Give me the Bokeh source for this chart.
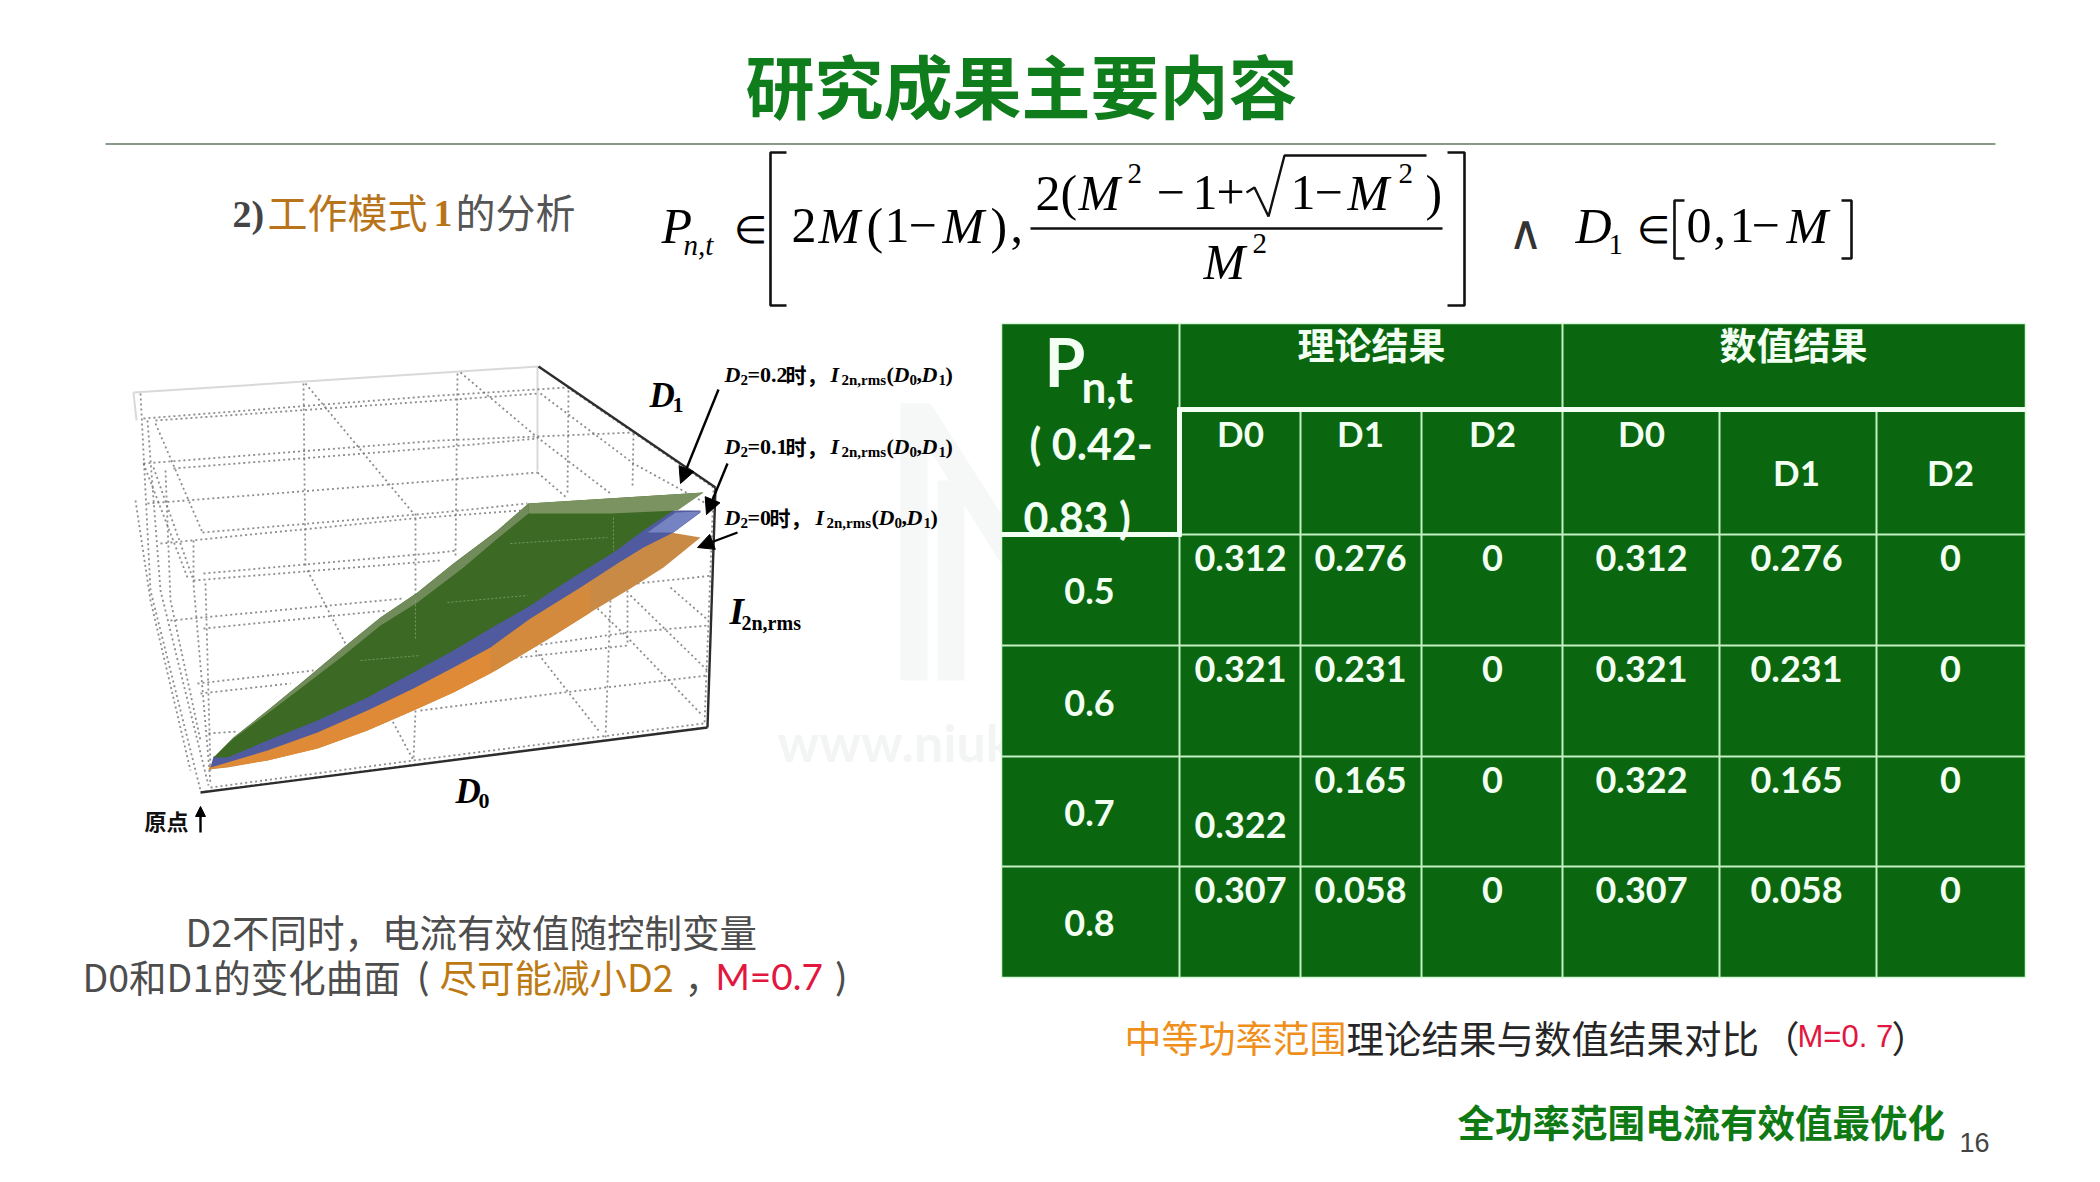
from bokeh.plotting import figure
from bokeh.models import ColumnDataSource, Range1d, Arrow, NormalHead
from bokeh.embed import file_html
from bokeh.resources import INLINE

# ---------- table values ----------
power_levels = ["0.5", "0.6", "0.7", "0.8"]
theory_d0 = ["0.312", "0.321", "0.322", "0.307"]
theory_d1 = ["0.276", "0.231", "0.165", "0.058"]
theory_d2 = ["0", "0", "0", "0"]
numeric_d0 = ["0.312", "0.321", "0.322", "0.307"]
numeric_d1 = ["0.276", "0.231", "0.165", "0.058"]
numeric_d2 = ["0", "0", "0", "0"]
group_titles = ["理论结果", "数值结果"]
col_titles = ["D0", "D1", "D2", "D0", "D1", "D2"]

# ---------- surfaces ----------
orange_x = [700, 663, 630, 593, 547, 497, 453, 413, 367, 317, 267, 227, 208,
            210, 227, 267, 317, 367, 413, 453, 490, 530, 580, 617, 643, 670]
orange_y = [537, 567, 588, 610, 639, 669, 692, 710, 730, 748, 760, 767, 769,
            765, 760, 748, 730, 708, 686, 665, 645, 616, 585, 561, 545, 532]
blue_x = [700, 673, 643, 617, 580, 530, 490, 453, 413, 367, 317, 267, 227, 210,
          213, 227, 267, 317, 367, 413, 453, 490, 530, 563, 613, 643, 670, 700]
blue_y = [512, 532, 547, 563, 587, 618, 647, 667, 688, 710, 732, 750, 762, 767,
          756, 755, 738, 718, 695, 670, 648, 626, 603, 581, 550, 528, 510, 510]
green_x = [213, 233, 267, 300, 343, 380, 417, 453, 497, 528, 703, 670, 643, 613, 563, 530, 490,
           453, 413, 367, 317, 267, 227]
green_y = [757, 737, 710, 683, 647, 617, 592, 563, 530, 503, 492, 512, 530, 552, 583, 605, 628,
           650, 672, 697, 720, 740, 757]
green_top_x = [528, 703, 677, 610, 528]
green_top_y = [503, 492, 510, 513, 513]
green_edge_x = [528, 497, 453, 417, 380, 343, 300, 267, 233, 213,
                233, 267, 300, 343, 380, 417, 463, 497, 528]
green_edge_y = [503, 530, 563, 592, 617, 647, 683, 710, 737, 757,
                738, 713, 688, 655, 625, 602, 567, 538, 513]
blue_light_x = [647, 675, 700, 673]
blue_light_y = [532, 512, 511, 532]
orange_hot_x = [208, 267, 317, 367, 413, 453, 490, 490, 453, 413, 367, 317, 267, 210]
orange_hot_y = [769, 760, 748, 730, 710, 692, 673, 645, 665, 686, 708, 730, 748, 765]
orange_mid_x = [490, 547, 590, 590, 530, 490]
orange_mid_y = [673, 639, 612, 579, 616, 645]

# dotted box grid
grid_lines = [
    [(143, 418), (440, 395), (567, 387)], [(155, 420), (440, 400), (538, 393)],
    [(143, 463), (440, 440), (633, 432)], [(173, 468), (440, 447), (537, 438)],
    [(147, 503), (440, 480), (537, 472)],
    [(202, 532), (440, 512), (527, 503)], [(160, 543), (413, 518), (520, 510)],
    [(203, 573), (440, 552), (456, 550)], [(193, 580), (440, 560)],
    [(170, 620), (403, 598)], [(203, 628), (387, 610)],
    [(197, 683), (313, 670)], [(200, 693), (290, 683)], [(208, 733), (237, 731)],
    [(535, 645), (627, 632), (708, 625)], [(510, 658), (627, 645)],
    [(420, 710), (563, 692), (707, 675)], [(637, 583), (713, 575)],
    [(210, 787), (413, 760), (703, 723)], [(205, 791), (415, 764), (705, 727)],
    [(303, 383), (305, 567)], [(415, 513), (415, 603)], [(415, 710), (413, 760)],
    [(457, 373), (455, 557)], [(568, 390), (567, 493)], [(633, 433), (632, 488)],
    [(627, 590), (627, 645)], [(610, 600), (605, 737)],
    [(140, 393), (150, 590), (200, 790)], [(147, 420), (160, 590), (208, 785)],
    [(193, 540), (193, 583), (210, 783)], [(205, 583), (210, 770)],
    [(135, 500), (150, 600), (190, 770)], [(165, 470), (170, 600), (200, 740)],
    [(305, 383), (413, 513)], [(155, 423), (202, 532)], [(153, 467), (192, 577)],
    [(143, 463), (187, 577)], [(307, 570), (347, 647)],
    [(460, 372), (537, 437), (610, 493)], [(537, 472), (567, 498)],
    [(540, 393), (633, 463), (713, 507)], [(567, 387), (633, 432), (713, 487)],
    [(630, 595), (707, 670)], [(670, 587), (708, 620)],
    [(597, 608), (627, 637), (700, 713)], [(535, 650), (598, 730)], [(390, 717), (413, 760)],
    [(713, 490), (704, 724)],
]
faint_lines = [[(510, 543), (607, 537)], [(447, 602), (527, 595)], [(613, 517), (613, 550)], [(415, 600), (415, 640)],
               [(360, 660), (420, 655)]]
box_dark = [[(538, 366), (715, 487)], [(715, 487), (707, 727)], [(707, 727), (200, 792)]]
box_light = [[(133, 392), (538, 366)], [(133, 392), (136, 420)], [(537, 366), (537, 470)]]

# label arrows: x0, y0, x1, y1
arrows = [(718, 389, 680, 483), (727, 463, 706, 514), (737, 532, 697, 547)]

# table grid
col_edges = [1179, 1300, 1421, 1562, 1719, 1876]
row_edges = [534, 645, 756, 866]
col_centers = [1240, 1360, 1492, 1641, 1796, 1950]
row_value_y = [557, 668, 779, 889]
row_label_y = [590, 702, 812, 922]
col_title_y = [432, 432, 432, 432, 471, 471]

GREEN = "#0a660f"
SERIF = "Liberation Serif"
CJK = "Noto Sans CJK SC"
LATO = "Lato"

T = dict(x=[], y=[], text=[], size=[], color=[], font=[], style=[], align=[], base=[])


def put(x, y, text, size, color="#000000", font=SERIF, style="normal", align="left", base="alphabetic"):
    # a given baseline is turned into a vertical middle
    if base == "alphabetic":
        y = y - 0.34 * size
        base = "middle"
    for k, v in zip(T, (x, y, text, f"{size}px", color, font, style, align, base)):
        T[k].append(v)


# headline
put(1021, 83, "研究成果主要内容", 69, "#0f7d1c", CJK, "bold", "center", "middle")
put(232, 226, "2)", 38, "#444444", SERIF, "bold")
put(267, 210, "工作模式", 40, "#b8741a", CJK, "normal", "left", "middle")
put(433, 226, "1", 38, "#b8741a", SERIF, "bold")
put(455, 210, "的分析", 40, "#555555", CJK, "normal", "left", "middle")

# formula
EQ = 50
for x, y, s, size, st in [
    (661, 242, "P", EQ, "italic"), (683, 254, "n,t", 29, "italic"), (733, 242, "∈", 38, "normal"),
    (791, 242, "2", EQ, "normal"), (818, 242, "M", EQ, "italic"), (866, 242, "(", EQ, "normal"),
    (884, 242, "1", EQ, "normal"), (908, 242, "−", EQ, "normal"), (942, 242, "M", EQ, "italic"),
    (990, 242, ")", EQ, "normal"), (1010, 242, ",", EQ, "normal"),
    (1035, 209, "2(", EQ, "normal"), (1078, 209, "M", EQ, "italic"), (1127, 183, "2", 29, "normal"),
    (1156, 209, "−", EQ, "normal"), (1192, 209, "1", EQ, "normal"), (1216, 209, "+", EQ, "normal"),
    (1290, 209, "1", EQ, "normal"), (1314, 209, "−", EQ, "normal"), (1347, 209, "M", EQ, "italic"),
    (1398, 183, "2", 29, "normal"), (1425, 209, ")", EQ, "normal"),
    (1203, 278, "M", EQ, "italic"), (1252, 253, "2", 29, "normal"),
    (1575, 242, "D", EQ, "italic"), (1608, 254, "1", 29, "normal"), (1636, 242, "∈", 38, "normal"),
    (1686, 242, "0", EQ, "normal"), (1713, 242, ",", EQ, "normal"), (1729, 242, "1", EQ, "normal"),
    (1751, 242, "−", EQ, "normal"), (1786, 242, "M", EQ, "italic"),
]:
    put(x, y, s, size, "#000000", SERIF, st)
put(1525, 248, "∧", 48, "#333333", SERIF, "normal", "center")

# surface labels
for y, x_i, cond in [(381, 830, "=0.2"), (453, 830, "=0.1"), (524, 815, "=0")]:
    put(724, y, "D", 22, style="bold italic")
    put(740, y + 4, "2", 15, style="bold")
    put(747, y, cond, 22, style="bold")
    put(747 + (38 if cond != "=0" else 22), y - 8, "时，", 21, font=CJK, style="bold", base="middle")
    put(x_i, y, "I", 22, style="bold italic")
    put(x_i + 11, y + 4, "2n,rms", 15, style="bold")
    put(x_i + 56, y, "(", 22, style="bold")
    put(x_i + 63, y, "D", 22, style="bold italic")
    put(x_i + 79, y + 4, "0", 15, style="bold")
    put(x_i + 86, y, ",", 22, style="bold")
    put(x_i + 91, y, "D", 22, style="bold italic")
    put(x_i + 108, y + 4, "1", 15, style="bold")
    put(x_i + 115, y, ")", 22, style="bold")

put(649, 407, "D", 35, style="bold italic")
put(672, 412, "1", 22, style="bold")
put(455, 803, "D", 35, style="bold italic")
put(478, 808, "0", 22, style="bold")
put(729, 624, "I", 37, style="bold italic")
put(741, 629, "2n,rms", 20, style="bold")
put(144, 819, "原点", 22, "#111111", CJK, "bold", "left", "middle")

# left caption
GRAY = "#4d4d4d"
put(185, 930, "D2不同时，电流有效值随控制变量", 37.5, GRAY, CJK, "normal", "left", "middle")
put(82, 975, "D0和D1的变化曲面", 37.5, GRAY, CJK, "normal", "left", "middle")
put(418, 975, "(", 39, GRAY, LATO, "normal", "left", "middle")
put(439, 975, "尽可能减小D2", 37.5, "#bd7a12", CJK, "normal", "left", "middle")
put(684, 975, "，", 37.5, GRAY, CJK, "normal", "left", "middle")
put(715, 975, "M=0.7", 37, "#e2173f", LATO, "normal", "left", "middle")
put(835, 975, ")", 39, GRAY, LATO, "normal", "left", "middle")

# right caption and footer
put(1124, 1036, "中等功率范围", 37, "#ef8f1c", CJK, "normal", "left", "middle")
put(1346, 1036, "理论结果与数值结果对比", 37.5, "#262626", CJK, "normal", "left", "middle")
put(1762, 1036, "（", 37, "#262626", CJK, "normal", "left", "middle")
put(1797, 1036, "M=0. 7", 31, "#e2173f", "Liberation Sans", "normal", "left", "middle")
put(1891, 1036, "）", 37, "#262626", CJK, "normal", "left", "middle")
put(1457, 1120, "全功率范围电流有效值最优化", 37.5, "#0f7a14", CJK, "bold", "left", "middle")
put(1959, 1142, "16", 27, "#444444", "Liberation Sans", "normal", "left", "middle")

# table text
W = "#f2fff2"
put(1044, 383, "P", 66, W, LATO, "bold")
put(1081, 400, "n,t", 44, W, LATO, "bold")
put(1029, 458, "( 0.42-", 43, W, LATO, "bold")
put(1023, 532, "0.83 )", 43, W, LATO, "bold")
put(1371, 343, group_titles[0], 37, W, CJK, "bold", "center", "middle")
put(1793, 343, group_titles[1], 37, W, CJK, "bold", "center", "middle")
for cx, cy, s in zip(col_centers, col_title_y, col_titles):
    put(cx, cy, s, 35, W, LATO, "bold", "center", "middle")
for i, label in enumerate(power_levels):
    put(1089, row_label_y[i], label, 36, W, LATO, "bold", "center", "middle")
    for j, col in enumerate((theory_d0, theory_d1, theory_d2, numeric_d0, numeric_d1, numeric_d2)):
        cy = 824 if (i == 2 and j == 0) else row_value_y[i]
        put(col_centers[j], cy, col[i], 36, W, LATO, "bold", "center", "middle")

p = figure(width=2084, height=1166, x_range=Range1d(0, 2084), y_range=Range1d(1166, 0),
           x_axis_type=None, y_axis_type=None, toolbar_location=None, output_backend="svg",
           min_border=0, outline_line_color=None, background_fill_color="#ffffff")
p.grid.visible = False


def split(lines):
    return [[pt[0] for pt in l] for l in lines], [[pt[1] for pt in l] for l in lines]


# faint watermark
p.patches([[900, 927, 927, 900], [937, 964, 964, 937], [900, 930, 1005, 1005]],
          [[403, 403, 680, 680], [480, 480, 680, 680], [403, 403, 520, 570]],
          fill_color="#f6f7f7", line_color=None)
p.text([777], [741], ["www.niuk"], text_font_size="52px", text_font=dict(value=LATO), text_font_style="bold",
       text_color="#f3f5f5", text_baseline="middle")

# rule under the headline
p.line([105, 1995], [143.5, 143.5], line_color="#5f7a60", line_width=1.5)

# box
xs, ys = split(box_light)
p.multi_line(xs, ys, line_color="#d9d9d9", line_width=2)
xs, ys = split(grid_lines)
p.multi_line(xs, ys, line_color="#707070", line_width=1.8, line_dash="2 3", line_alpha=0.8)
xs, ys = split(box_dark)
p.multi_line(xs, ys, line_color="#2d2d2d", line_width=2.4)

# surfaces
p.patch(orange_x, orange_y, fill_color="#c98a45", line_color=None)
p.patch(orange_mid_x, orange_mid_y, fill_color="#d48a3d", line_color=None)
p.patch(orange_hot_x, orange_hot_y, fill_color="#df8a36", line_color=None)
p.patch(blue_x, blue_y, fill_color="#505b9f", line_color=None)
p.patch(blue_light_x, blue_light_y, fill_color="#7583c2", line_color=None)
p.patch(green_x, green_y, fill_color="#3c6a25", line_color=None)
p.patch(green_edge_x, green_edge_y, fill_color="#718b5a", line_color=None)
p.patch(green_top_x, green_top_y, fill_color="#7a9360", line_color=None)
xs, ys = split(faint_lines)
p.multi_line(xs, ys, line_color="#8fae7c", line_width=1, line_dash="2 2", line_alpha=0.7)

# arrows
for x0, y0, x1, y1 in arrows:
    p.add_layout(Arrow(end=NormalHead(size=16, fill_color="#000000", line_color="#000000"),
                       x_start=x0, y_start=y0, x_end=x1, y_end=y1, line_color="#000000", line_width=2.4))
p.add_layout(Arrow(end=NormalHead(size=10, fill_color="#000000", line_color="#000000"),
                   x_start=200, y_start=832, x_end=200, y_end=806, line_color="#000000", line_width=2.4))

# formula brackets, bar and radical
p.multi_line([[786, 770, 770, 786], [1447, 1464, 1464, 1447], [1684, 1674, 1674, 1684], [1841, 1851, 1851, 1841]],
             [[152, 152, 305, 305], [152, 152, 305, 305], [200, 200, 258, 258], [200, 200, 258, 258]],
             line_color="#111111", line_width=2.6)
p.line([1030, 1442], [228, 228], line_color="#111111", line_width=2.6)
p.line([1246, 1254, 1268, 1284, 1426], [192, 187, 216, 155, 155], line_color="#111111", line_width=2.4)

# table
p.quad(left=[1001], right=[2025], top=[323], bottom=[977], fill_color=GREEN, line_color="#d8f8d8", line_width=1.5)
thin = [[(1179, 323), (1179, 409)], [(1179, 534), (1179, 977)], [(1562, 323), (1562, 977)]]
thin += [[(c, 409), (c, 977)] for c in col_edges if c not in (1179, 1562)]
thin += [[(1181, row_edges[0]), (2025, row_edges[0])]]
thin += [[(1001, r), (2025, r)] for r in row_edges[1:]]
xs, ys = split(thin)
p.multi_line(xs, ys, line_color="#c4f0c4", line_width=2)
thick = [[(1177, 409), (2025, 409)], [(1179, 407), (1179, 536)], [(1001, 534), (1181, 534)]]
xs, ys = split(thick)
p.multi_line(xs, ys, line_color="#f4fff4", line_width=5)

src = ColumnDataSource(T)
p.text("x", "y", text="text", source=src, text_font_size="size", text_color="color", text_font="font",
       text_font_style="style", text_align="align", text_baseline="base")

open("out.html", "w").write(file_html(p, INLINE))
